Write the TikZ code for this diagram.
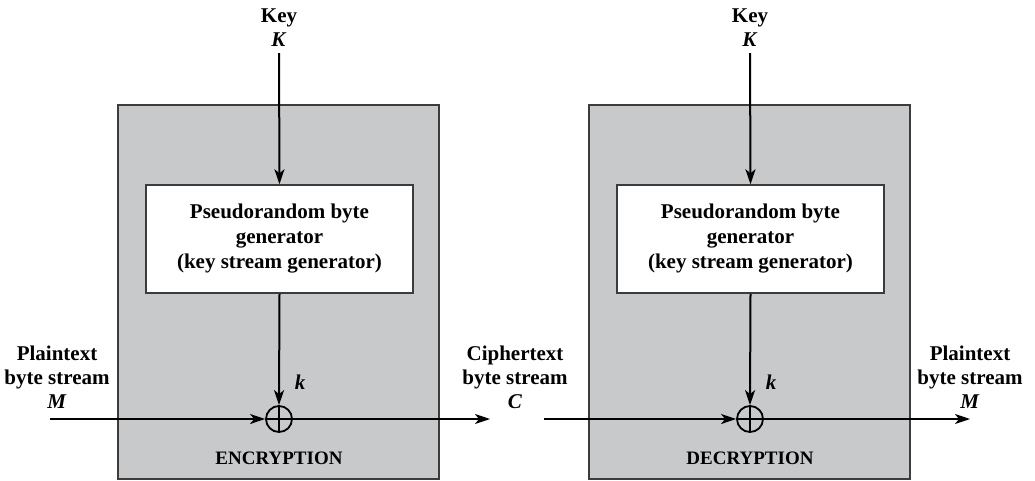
\documentclass[tikz,border=0pt]{standalone}
\usepackage{fontspec}
\setmainfont{Liberation Serif}
\usetikzlibrary{arrows.meta}
\definecolor{boxgray}{RGB}{200,201,203}
\definecolor{edgegray}{RGB}{60,60,60}
\tikzset{
  graybox/.style={draw=edgegray, fill=boxgray, line width=1.5pt, minimum width=321pt, minimum height=374pt, inner sep=0pt},
  genbox/.style={draw=edgegray, fill=white, line width=1.5pt, minimum width=267pt, minimum height=108pt, align=center, inner sep=0pt,
    font=\fontsize{21}{25}\selectfont\bfseries},
  lbl/.style={align=center, inner sep=0pt, font=\fontsize{21}{24}\selectfont\bfseries},
  title/.style={inner sep=0pt, font=\fontsize{19}{22}\selectfont\bfseries},
  xorsym/.style={circle, draw, line width=1.8pt, minimum size=26pt, inner sep=0pt},
  arr/.style={line width=2pt, -{Stealth[length=15pt,width=10pt,inset=4pt]}},
  ln/.style={line width=2pt}
}
\begin{document}
\begin{tikzpicture}[x=1pt,y=-1pt]
\path[use as bounding box] (0,0) rectangle (1035,480);
% encryption side
\node[graybox] (encbox) at (278.5,292) {};
\node[genbox] (genE) at (279.5,239) {Pseudorandom byte\\generator\\(key stream generator)};
\node[lbl, anchor=south] (keyE) at (279,47) {Key\\\textit{K}};
\node[xorsym] (xorE) at (279,419) {};
\draw[line width=1.8pt] (xorE.north) -- (xorE.south) (xorE.west) -- (xorE.east);
\node[lbl] (kE) at (300,382) {\textit{k}};
\node[title] (encT) at (279,458) {ENCRYPTION};
\node[lbl, anchor=south] (plainIn) at (57,409) {Plaintext\\byte stream\\\textit{M}};
\coordinate (inE) at (50,419);
\coordinate (outE) at (490,419);
\draw[arr] ([yshift=-6pt]keyE.south) -- (genE.north);
\draw[arr] (genE.south) -- (xorE.north);
\draw[arr] (inE) -- (xorE.west);
\draw[arr] (xorE.east) -- (outE);
% cipher label
\node[lbl, anchor=south] (cipher) at (515,409) {Ciphertext\\byte stream\\\textit{C}};
% decryption side
\node[graybox] (decbox) at (749.5,292) {};
\node[genbox] (genD) at (750.5,239) {Pseudorandom byte\\generator\\(key stream generator)};
\node[lbl, anchor=south] (keyD) at (750,47) {Key\\\textit{K}};
\node[xorsym] (xorD) at (750,419) {};
\draw[line width=1.8pt] (xorD.north) -- (xorD.south) (xorD.west) -- (xorD.east);
\node[lbl] (kD) at (771,382) {\textit{k}};
\node[title] (decT) at (750,458) {DECRYPTION};
\node[lbl, anchor=south] (plainOut) at (970,409) {Plaintext\\byte stream\\\textit{M}};
\coordinate (inD) at (544,419);
\coordinate (outD) at (970,419);
\draw[arr] ([yshift=-6pt]keyD.south) -- (genD.north);
\draw[arr] (genD.south) -- (xorD.north);
\draw[arr] (inD) -- (xorD.west);
\draw[arr] (xorD.east) -- (outD);
\end{tikzpicture}
\end{document}
